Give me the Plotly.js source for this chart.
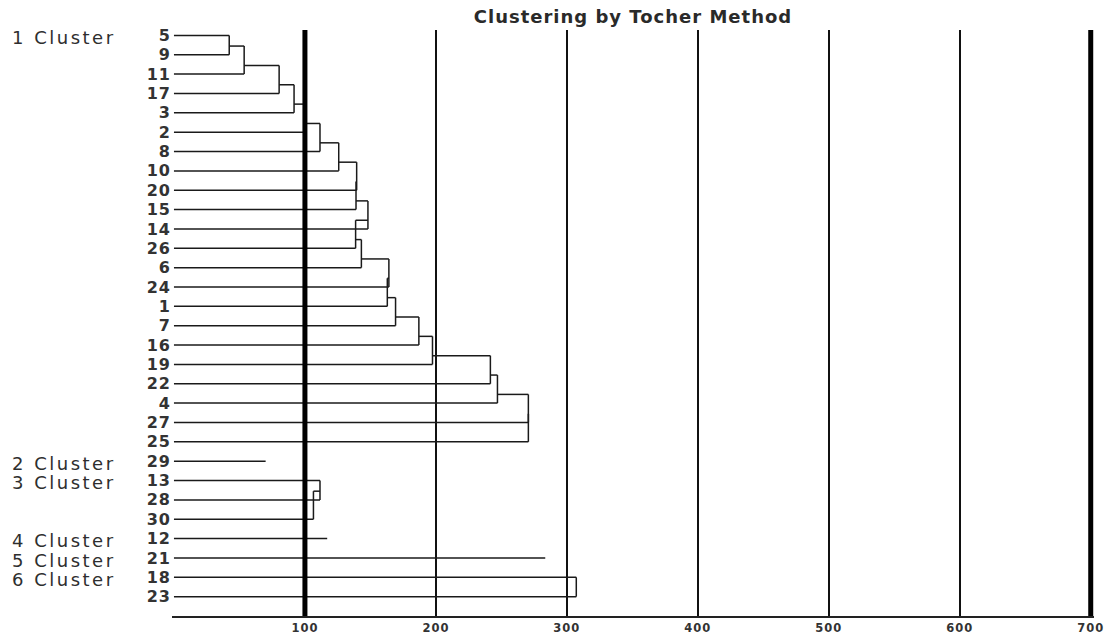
<!DOCTYPE html>
<html><head><meta charset="utf-8">
<script src="https://cdn.plot.ly/plotly-3.0.1.min.js"></script>
<style>
html,body{margin:0;padding:0;background:#fff}
#chart{width:1115px;height:639px}
#chart .annotation-text{letter-spacing:2.5px}
#chart .gtitle{letter-spacing:1px}
#chart .ytick text{letter-spacing:1px}
#chart .xtick text{letter-spacing:1px}
</style>
</head><body><div id="chart"></div>
<script>
// ---- data ----
const leafLabels = ['5','9','11','17','3','2','8','10','20','15','14','26','6','24','1','7','16','19','22','4','27','25',
                    '29','13','28','30','12','21','18','23'];
const clusterNames = ['1 Cluster','2 Cluster','3 Cluster','4 Cluster','5 Cluster','6 Cluster'];
const clusterSizes = [22, 1, 3, 1, 1, 2];
// distance at which each leaf joins its cluster (first member of a multi-member cluster: null)
const joinDistances = [null, 42.2, 53.6, 80.3, 91.7, 99.5, 111.5, 125.8, 139.5, 139.0, 148.1, 138.7, 143.1, 164.1, 162.9,
                       169.2, 187.0, 197.4, 241.6, 247.0, 270.6, 270.6,
                       70.0,
                       null, 111.5, 106.5,
                       117.0,
                       283.5,
                       null, 307.2];
const tickValues = [100, 200, 300, 400, 500, 600, 700];
const tickLabels = ['100', '200', '300', '400', '500', '600', '700'];
const thickLines = [100, 700];

// ---- build the Tocher chain diagram ----
const nodeOffset = 0.45;
const xs = [], ys = [];
let start = 0;
clusterSizes.forEach(n => {
  if (n === 1) {
    xs.push(0, joinDistances[start], null); ys.push(start, start, null);
  } else {
    xs.push(0, joinDistances[start + 1], null); ys.push(start, start, null);
    let nodeY = start, prevX = null;
    for (let k = 1; k < n; k++) {
      const i = start + k, d = joinDistances[i];
      if (prevX !== null) { xs.push(prevX, d, null); ys.push(nodeY, nodeY, null); }
      xs.push(d, d, null); ys.push(nodeY, i, null);
      xs.push(0, d, null); ys.push(i, i, null);
      nodeY = i - nodeOffset; prevX = d;
    }
  }
  start += n;
});

const rowIdx = leafLabels.map((_, i) => i);
const clusterStarts = [];
clusterSizes.reduce((acc, n) => { clusterStarts.push(acc); return acc + n; }, 0);

const L = 172, R = 21, T = 30, B = 23, W = 1115;
const plotW = W - L - R;

const traces = [{
  x: xs, y: ys, type: 'scatter', mode: 'lines',
  line: {color: '#1a1a1a', width: 1.5}, hoverinfo: 'skip', showlegend: false
}];

const annotations = clusterNames.map((name, c) => ({
  text: name, xref: 'paper', yref: 'y', x: (10 - L) / plotW, y: clusterStarts[c] + 0.12,
  xanchor: 'left', yanchor: 'middle', align: 'left', showarrow: false,
  font: {family: 'DejaVu Sans', size: 18, color: '#2e2e2e'}
}));

const shapes = thickLines.map(v => ({
  type: 'line', xref: 'x', yref: 'paper', x0: v, x1: v, y0: 0, y1: 1,
  line: {color: '#000', width: 5}
}));

const layout = {
  width: 1115, height: 639,
  margin: {l: L, r: R, t: T, b: B, pad: 0},
  paper_bgcolor: '#fff', plot_bgcolor: '#fff',
  title: {text: 'Clustering by Tocher Method', x: 0.5, xref: 'paper', y: 1 - 17/639, yref: 'container', yanchor: 'middle',
          font: {family: 'DejaVu Sans', size: 18, weight: 'bold', color: '#2a2a2a'}},
  xaxis: {range: [-1.5, 702.5], tickvals: tickValues, ticktext: tickLabels, ticks: '',
          showgrid: true, gridcolor: '#111', gridwidth: 2, zeroline: false,
          showline: true, linecolor: '#222', linewidth: 2,
          tickfont: {family: 'DejaVu Sans', size: 11.5, weight: 'bold', color: '#333'}},
  yaxis: {range: [30, -0.28], tickvals: rowIdx, ticktext: leafLabels, ticks: '',
          showgrid: false, zeroline: false, showline: false,
          tickfont: {family: 'DejaVu Sans', size: 16, weight: 'bold', color: '#333'}},
  annotations: annotations,
  shapes: shapes,
  showlegend: false
};

Plotly.newPlot('chart', traces, layout, {displayModeBar: false, staticPlot: true});
</script></body></html>
